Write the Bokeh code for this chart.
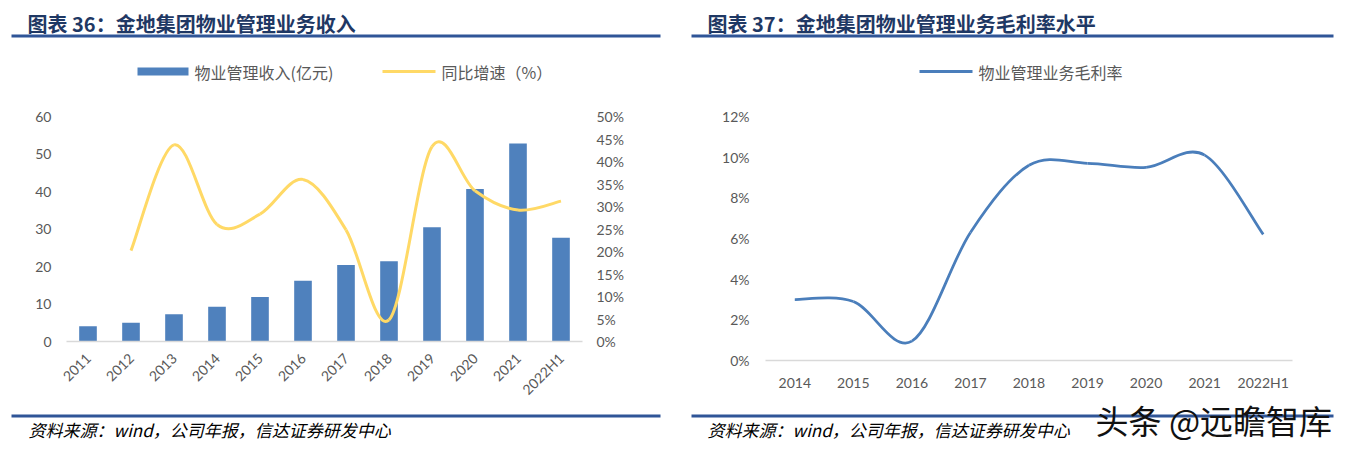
import math
from bokeh.plotting import figure
from bokeh.models import Range1d, LinearAxis, FixedTicker, PrintfTickFormatter
from bokeh.core.properties import value
from bokeh.layouts import row, column
from bokeh.embed import file_html
from bokeh.resources import INLINE

# ---------------- data ----------------
years_left = ["2011", "2012", "2013", "2014", "2015", "2016", "2017", "2018",
              "2019", "2020", "2021", "2022H1"]
revenue = [4.1, 5.0, 7.3, 9.3, 11.9, 16.2, 20.4, 21.4, 30.5, 40.7, 52.8, 27.7]   # 亿元
growth = [None, 20.2, 43.7, 26.0, 28.3, 36.0, 24.8, 4.8, 43.3, 33.5, 29.2, 31.2]  # %

years_right = ["2014", "2015", "2016", "2017", "2018", "2019", "2020", "2021", "2022H1"]
margin = [3.0, 2.9, 0.95, 6.3, 9.6, 9.7, 9.5, 10.1, 6.2]  # %

left_ticks = [0, 10, 20, 30, 40, 50, 60]
pct_ticks = [0, 5, 10, 15, 20, 25, 30, 35, 40, 45, 50]
right_ticks = [0, 2, 4, 6, 8, 10, 12]

title_left = "图表 36：金地集团物业管理业务收入"
title_right = "图表 37：金地集团物业管理业务毛利率水平"
legend_bar = "物业管理收入(亿元)"
legend_growth = "同比增速（%）"
legend_margin = "物业管理业务毛利率"
source_text = "资料来源：wind，公司年报，信达证券研发中心"
watermark = "头条 @远瞻智库"

# ---------------- style ----------------
BAR = "#4f81bd"
YEL = "#ffd966"
BLUE_LINE = "#4a7ebb"
TICK_TXT = "#595959"
BASE = "#d9d9d9"
RULE = "#2f5597"
TITLE_C = "#1f3864"
CJK = "Noto Sans CJK SC"
NUM = "Lato"


def smooth_segments(xs, ys):
    """Bezier control points for a Catmull-Rom style smoothed line (Excel-like)."""
    n = len(xs)
    seg = dict(x0=[], y0=[], x1=[], y1=[], cx0=[], cy0=[], cx1=[], cy1=[])
    for i in range(n - 1):
        i0, i3 = max(i - 1, 0), min(i + 2, n - 1)
        seg["x0"].append(xs[i]); seg["y0"].append(ys[i])
        seg["x1"].append(xs[i + 1]); seg["y1"].append(ys[i + 1])
        seg["cx0"].append(xs[i] + (xs[i + 1] - xs[i0]) / 6.0)
        seg["cy0"].append(ys[i] + (ys[i + 1] - ys[i0]) / 6.0)
        seg["cx1"].append(xs[i + 1] - (xs[i3] - xs[i]) / 6.0)
        seg["cy1"].append(ys[i + 1] - (ys[i3] - ys[i]) / 6.0)
    return seg


def style_axes(p):
    for ax in p.axis:
        ax.axis_line_color = None
        ax.major_tick_line_color = None
        ax.minor_tick_line_color = None
        ax.major_label_text_color = TICK_TXT
        ax.major_label_text_font = NUM
        ax.major_label_text_font_size = "14px"
    p.xgrid.visible = False
    p.ygrid.visible = False


def pixel_fig(w, h):
    """Blank figure whose data units are pixels (y downward) for titles, legends, notes."""
    p = figure(width=w, height=h, x_range=Range1d(0, w), y_range=Range1d(h, 0),
               x_axis_location=None, y_axis_location=None, min_border=0,
               output_backend="svg", toolbar_location=None, outline_line_color=None,
               background_fill_color="white", border_fill_color="white")
    p.grid.visible = False
    return p


def txt(p, x, y, s, size, color, style="normal", align="left"):
    p.text(x=[x], y=[y], text=[s], text_font=value(CJK), text_font_size=size,
           text_color=color, text_font_style=style, text_align=align,
           text_baseline="middle")


# ================= LEFT PANEL =================
HL = pixel_fig(680, 100)
txt(HL, 27, 23, title_left, "20px", TITLE_C, style="bold")
HL.quad(left=11, right=660, top=34, bottom=37, fill_color=RULE, line_color=None)
HL.quad(left=137, right=188, top=67, bottom=75, fill_color=BAR, line_color=None)
txt(HL, 194, 71, legend_bar, "16px", TICK_TXT)
HL.segment(x0=382, y0=71, x1=435, y1=71, line_color=YEL, line_width=3)
txt(HL, 441, 71, legend_growth, "16px", TICK_TXT)

# chart: image y 100..412, frame x 66..582, y 116..341
pl = figure(width=680, height=312, x_range=Range1d(-0.5, len(years_left) - 0.5),
            y_range=Range1d(0, 60), output_backend="svg", toolbar_location=None,
            min_border_left=66, min_border_right=98, min_border_top=16, min_border_bottom=71,
            outline_line_color=None, background_fill_color="white", border_fill_color="white")
pl.extra_y_ranges = {"pct": Range1d(0, 50)}

xl = list(range(len(years_left)))
pl.vbar(x=xl, top=revenue, width=0.41, fill_color=BAR, line_color=None)

gx = [x for x, g in zip(xl, growth) if g is not None]
gy = [g for g in growth if g is not None]
pl.bezier(line_color=YEL, line_width=3, y_range_name="pct", **smooth_segments(gx, gy))

pct_axis = LinearAxis(y_range_name="pct", ticker=FixedTicker(ticks=pct_ticks),
                      formatter=PrintfTickFormatter(format="%d%%"))
pl.add_layout(pct_axis, "right")

style_axes(pl)
pl.yaxis[0].ticker = FixedTicker(ticks=left_ticks)
pl.yaxis[0].major_label_standoff = 9
pct_axis.major_label_standoff = 8
pl.xaxis.ticker = FixedTicker(ticks=xl)
pl.xaxis.major_label_overrides = {i: y for i, y in enumerate(years_left)}
pl.xaxis.major_label_orientation = math.pi / 4
pl.xaxis.major_label_standoff = 8
pl.xaxis.axis_line_color = BASE
pl.xaxis.axis_line_width = 1.5

FL = pixel_fig(680, 36)   # image y 412..448
FL.quad(left=11, right=660, top=2, bottom=5, fill_color=RULE, line_color=None)
txt(FL, 28, 17, source_text, "17px", "#000000", style="italic")

# ================= RIGHT PANEL =================
HR = pixel_fig(677, 100)
txt(HR, 27, 23, title_right, "20px", TITLE_C, style="bold")
HR.quad(left=11, right=653, top=34, bottom=37, fill_color=RULE, line_color=None)
HR.segment(x0=239, y0=71, x1=292, y1=71, line_color=BLUE_LINE, line_width=3)
txt(HR, 298, 71, legend_margin, "16px", TICK_TXT)

# chart: image y 100..394, frame x 765..1292, y 116..360
pr = figure(width=677, height=294, x_range=Range1d(-0.5, len(years_right) - 0.5),
            y_range=Range1d(0, 12), output_backend="svg", toolbar_location=None,
            min_border_left=85, min_border_right=65, min_border_top=16, min_border_bottom=34,
            outline_line_color=None, background_fill_color="white", border_fill_color="white")
xr = list(range(len(years_right)))
pr.bezier(line_color=BLUE_LINE, line_width=2.75, **smooth_segments(xr, margin))

style_axes(pr)
pr.yaxis.ticker = FixedTicker(ticks=right_ticks)
pr.yaxis.formatter = PrintfTickFormatter(format="%d%%")
pr.yaxis.major_label_standoff = 10
pr.xaxis.ticker = FixedTicker(ticks=xr)
pr.xaxis.major_label_overrides = {i: y for i, y in enumerate(years_right)}
pr.xaxis.major_label_standoff = 7
pr.xaxis.axis_line_color = BASE
pr.xaxis.axis_line_width = 1.5

FR = pixel_fig(677, 54)   # image y 394..448
FR.quad(left=11, right=653, top=20, bottom=23, fill_color=RULE, line_color=None)
txt(FR, 27, 35, source_text, "17px", "#000000", style="italic")
txt(FR, 415, 25, watermark, "33px", "#111111")

# charts wrapped in their own rows so their frames are not aligned with the text strips
layout = row(column(HL, row(pl), FL), column(HR, row(pr), FR))
open("out.html", "w").write(file_html(layout, INLINE))
